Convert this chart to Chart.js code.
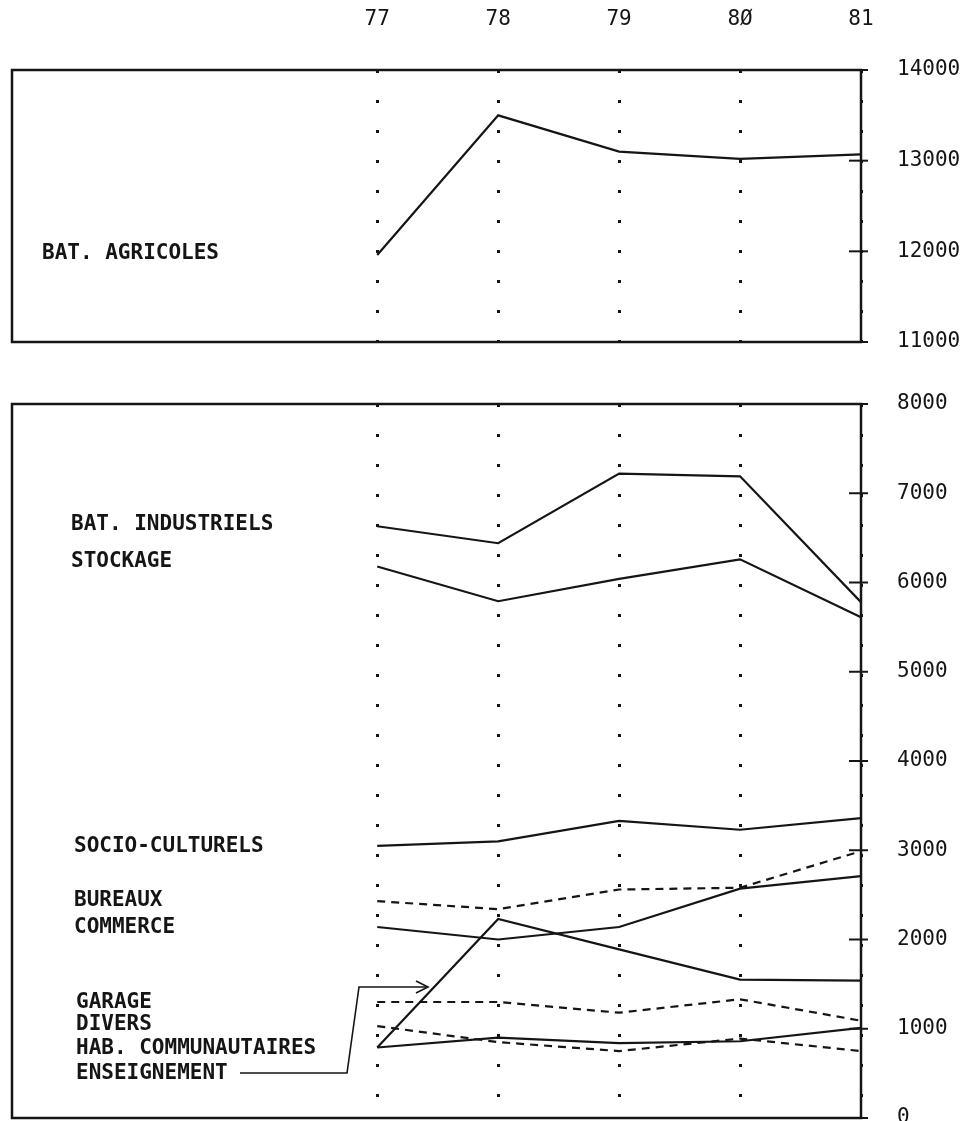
<!DOCTYPE html>
<html>
<head>
<meta charset="utf-8">
<script src="https://cdn.jsdelivr.net/npm/chart.js@4/dist/chart.umd.min.js"></script>
<style>
  html, body { margin: 0; padding: 0; background: #fff; }
  body { width: 963px; height: 1121px; position: relative; overflow: hidden; }
  canvas { position: absolute; left: 0; }
  #topChart { top: 0; }
  #bottomChart { top: 372px; }
  .lbl {
    position: absolute;
    font-family: "DejaVu Sans Mono", monospace;
    font-size: 21px;
    font-weight: bold;
    color: #151515;
    transform: translateY(-50%);
    white-space: pre;
  }
</style>
</head>
<body>
<canvas id="topChart" width="963" height="372"></canvas>
<canvas id="bottomChart" width="963" height="749"></canvas>

<script>
// ===== DATA =====
const years = [77, 78, 79, 80, 81];
const yearLabels = ['77', '78', '79', '8Ø', '81'];
const topTicks = [11000, 12000, 13000, 14000];
const bottomTicks = [0, 1000, 2000, 3000, 4000, 5000, 6000, 7000, 8000];

const agricoles = [11960, 13500, 13100, 13020, 13070];
const industriels = [6630, 6440, 7220, 7190, 5780];
const stockage = [6180, 5790, 6040, 6260, 5610];
const socioCulturels = [3050, 3100, 3330, 3230, 3360];
const bureaux = [2430, 2340, 2560, 2580, 2990];
const commerce = [2140, 2000, 2140, 2570, 2710];
const garage = [1300, 1300, 1180, 1330, 1090];
const divers = [1030, 850, 750, 890, 750];
const habCommunautaires = [790, 900, 840, 860, 1010];
const enseignement = [790, 2230, 1890, 1550, 1540];

// ===== LAYOUT (page pixels) =====
const INK = '#151515';
const FONT = '"DejaVu Sans Mono", monospace';
const labels = [
    { text: 'BAT. AGRICOLES', x: 42, y: 252 },
    { text: 'BAT. INDUSTRIELS', x: 71, y: 523 },
    { text: 'STOCKAGE', x: 71, y: 560 },
    { text: 'SOCIO-CULTURELS', x: 74, y: 845 },
    { text: 'BUREAUX', x: 74, y: 899 },
    { text: 'COMMERCE', x: 74, y: 926 },
    { text: 'GARAGE', x: 76, y: 1001 },
    { text: 'DIVERS', x: 76, y: 1023 },
    { text: 'HAB. COMMUNAUTAIRES', x: 76, y: 1047 },
    { text: 'ENSEIGNEMENT', x: 76, y: 1072 }
];

labels.forEach(l => {
    const div = document.createElement('div');
    div.className = 'lbl';
    div.textContent = l.text;
    div.style.left = l.x + 'px';
    div.style.top = l.y + 'px';
    document.body.appendChild(div);
});

// ===== HELPERS =====
function series(values, label, dashed) {
    return {
        label: label,
        data: years.map((yr, i) => ({ x: yr, y: values[i] })),
        borderColor: INK,
        borderWidth: 2.2,
        borderDash: dashed ? [8, 6] : [],
        pointRadius: 0,
        tension: 0,
        fill: false
    };
}

function noOverflow(scale) {
    scale.paddingTop = 0;
    scale.paddingBottom = 0;
    scale.paddingLeft = 0;
    scale.paddingRight = 0;
}

// frame: all four edges, and the cross ticks on the right axis
const framePlugin = {
    id: 'frame',
    afterDraw(chart, args, opts) {
        const { ctx, chartArea: a } = chart;
        const yScale = chart.scales.y;
        ctx.save();
        ctx.strokeStyle = INK;
        ctx.lineWidth = 2.5;
        ctx.strokeRect(a.left, a.top, a.right - a.left, a.bottom - a.top);
        ctx.lineWidth = 2;
        yScale.ticks.forEach(t => {
            const py = yScale.getPixelForValue(t.value);
            ctx.beginPath();
            ctx.moveTo(a.right - 12, py);
            ctx.lineTo(a.right + 7, py);
            ctx.stroke();
        });
        if (opts.arrow) {
            // pointer from ENSEIGNEMENT label to its line
            const off = chart.canvas.offsetTop;
            const p = opts.arrow.map(([x, y]) => [x, y - off]);
            ctx.lineWidth = 1.6;
            ctx.beginPath();
            ctx.moveTo(p[0][0], p[0][1]);
            for (let i = 1; i < p.length; i++) ctx.lineTo(p[i][0], p[i][1]);
            ctx.stroke();
            const tip = p[p.length - 1];
            ctx.beginPath();
            ctx.moveTo(tip[0] - 12, tip[1] - 6);
            ctx.lineTo(tip[0], tip[1]);
            ctx.lineTo(tip[0] - 12, tip[1] + 6);
            ctx.stroke();
        }
        ctx.restore();
    }
};

function makeOptions(cfg) {
    return {
        responsive: false,
        animation: false,
        layout: { padding: { left: 12, right: 0, top: 0, bottom: cfg.padBottom } },
        plugins: {
            legend: { display: false },
            tooltip: { enabled: false },
            frame: { arrow: cfg.arrow || null }
        },
        scales: {
            x: {
                type: 'linear',
                position: 'top',
                min: 73.98,
                max: 81,
                afterBuildTicks: scale => { scale.ticks = years.map(v => ({ value: v })); },
                afterFit: scale => { scale.height = cfg.xHeight; noOverflow(scale); },
                border: { display: false, dash: [3, 27] },
                grid: {
                    color: INK,
                    lineWidth: 3,
                    drawTicks: false
                },
                ticks: {
                    display: cfg.showYears,
                    padding: 38,
                    color: INK,
                    font: { family: FONT, size: 21 },
                    callback: (v, i) => yearLabels[i]
                }
            },
            y: {
                type: 'linear',
                position: 'right',
                min: cfg.ticks[0],
                max: cfg.ticks[cfg.ticks.length - 1],
                afterBuildTicks: scale => { scale.ticks = cfg.ticks.map(v => ({ value: v })); },
                afterFit: scale => { scale.width = 102; noOverflow(scale); },
                border: { display: false },
                grid: { display: false, drawTicks: false },
                ticks: {
                    padding: 36,
                    color: INK,
                    font: { family: FONT, size: 21 },
                    callback: v => String(v)
                }
            }
        }
    };
}

// ===== CHARTS =====
new Chart(document.getElementById('topChart'), {
    type: 'line',
    data: { datasets: [series(agricoles, 'BAT. AGRICOLES', false)] },
    options: makeOptions({ padBottom: 30, xHeight: 70, showYears: true, ticks: topTicks }),
    plugins: [framePlugin]
});

new Chart(document.getElementById('bottomChart'), {
    type: 'line',
    data: {
        datasets: [
            series(industriels, 'BAT. INDUSTRIELS', false),
            series(stockage, 'STOCKAGE', false),
            series(socioCulturels, 'SOCIO-CULTURELS', false),
            series(bureaux, 'BUREAUX', true),
            series(commerce, 'COMMERCE', false),
            series(garage, 'GARAGE', true),
            series(divers, 'DIVERS', true),
            series(habCommunautaires, 'HAB. COMMUNAUTAIRES', false),
            series(enseignement, 'ENSEIGNEMENT', false)
        ]
    },
    options: makeOptions({
        padBottom: 3,
        xHeight: 32,
        showYears: false,
        ticks: bottomTicks,
        arrow: [[240, 1073], [347, 1073], [359, 987], [428, 987]]
    }),
    plugins: [framePlugin]
});
</script>
</body>
</html>
